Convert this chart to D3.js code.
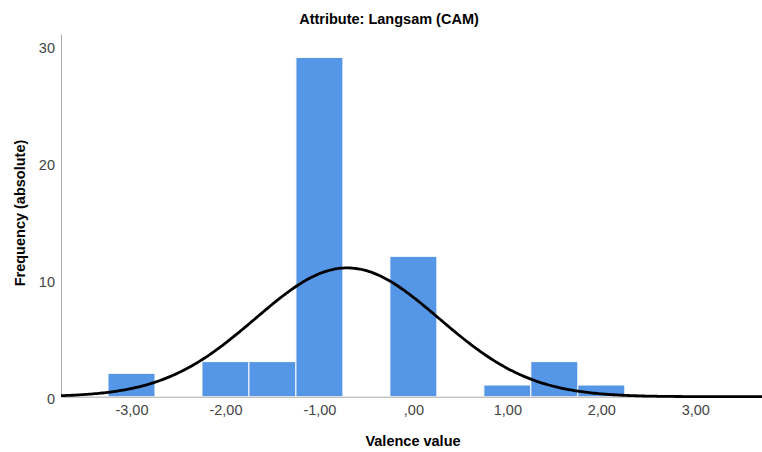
<!DOCTYPE html>
<html>
<head>
<meta charset="utf-8">
<script src="https://cdn.jsdelivr.net/npm/d3@7"></script>
<style>
  body { margin: 0; background: #fff; }
  text { font-family: "Liberation Sans", Arial, sans-serif; }
</style>
</head>
<body>
<svg id="chart" width="762" height="452"></svg>
<script>
// histogram bins (centre of each 0.5-wide bin) and counts
const binCenters = [-3, -2, -1.5, -1, 0, 1, 1.5, 2]
const counts = [2, 3, 3, 29, 12, 1, 3, 1]
const binWidth = 0.5
const xTicks = [-3, -2, -1, 0, 1, 2, 3]
const yTicks = [0, 10, 20, 30]

const svg = d3.select("#chart")
const plot = { left: 61, right: 762, top: 34, bottom: 396.7 }

const x = d3.scaleLinear().domain([-3.75, 3.71]).range([plot.left, plot.right])
const y = d3.scaleLinear().domain([0, 31]).range([plot.bottom, plot.top])

const fmt = v => (v === 0 ? ",00" : d3.format(".2f")(v).replace(".", ",").replace("−", "-"))

// bars
svg.append("g").selectAll("rect")
    .data(binCenters.map((c, i) => ({ c, n: counts[i] })))
    .join("rect")
    .attr("x", d => x(d.c - binWidth / 2))
    .attr("width", d => x(d.c + binWidth / 2) - x(d.c - binWidth / 2))
    .attr("y", d => y(d.n))
    .attr("height", d => y(0) - y(d.n))
    .attr("fill", "#5596e6")
    .attr("stroke", "#fff")
    .attr("stroke-width", 1)

// normal fit
const n = d3.sum(counts)
const mean = d3.sum(binCenters, (c, i) => c * counts[i]) / n
const sd = Math.sqrt(d3.sum(binCenters, (c, i) => counts[i] * (c - mean) ** 2) / (n - 1))
const dens = v => n * binWidth / (sd * Math.sqrt(2 * Math.PI)) * Math.exp(-0.5 * ((v - mean) / sd) ** 2)
const xs = d3.range(x.domain()[0], x.domain()[1] + 0.001, 0.02)

// axes
const xAxis = svg.append("g")
    .attr("transform", `translate(0,${plot.bottom})`)
    .call(d3.axisBottom(x).tickValues(xTicks).tickSize(0).tickPadding(8).tickFormat(fmt))
const yAxis = svg.append("g")
    .attr("transform", `translate(${plot.left},0)`)
    .call(d3.axisLeft(y).tickValues(yTicks).tickSize(0).tickPadding(6))
for (const a of [xAxis, yAxis]) {
    a.select(".domain").attr("stroke", "#aaa").attr("stroke-width", 1)
    a.selectAll("text").attr("fill", "#444").attr("font-size", 14.5)
        .style("font-family", "'Liberation Sans', Arial, sans-serif")
}
yAxis.selectAll("text").attr("dy", "0.45em")

svg.append("path")
    .datum(xs)
    .attr("fill", "none")
    .attr("stroke", "#000")
    .attr("stroke-width", 2.8)
    .attr("d", d3.line().x(d => x(d)).y(d => y(dens(d))))

// labels
svg.append("text")
    .attr("x", 389).attr("y", 24)
    .attr("text-anchor", "middle")
    .attr("font-size", 14.5).attr("font-weight", "bold")
    .text("Attribute: Langsam (CAM)")

svg.append("text")
    .attr("x", 413).attr("y", 446)
    .attr("text-anchor", "middle")
    .attr("font-size", 14.5).attr("font-weight", "bold")
    .text("Valence value")

svg.append("text")
    .attr("transform", "translate(25,213) rotate(-90)")
    .attr("text-anchor", "middle")
    .attr("font-size", 14.5).attr("font-weight", "bold")
    .text("Frequency (absolute)")
</script>
</body>
</html>
